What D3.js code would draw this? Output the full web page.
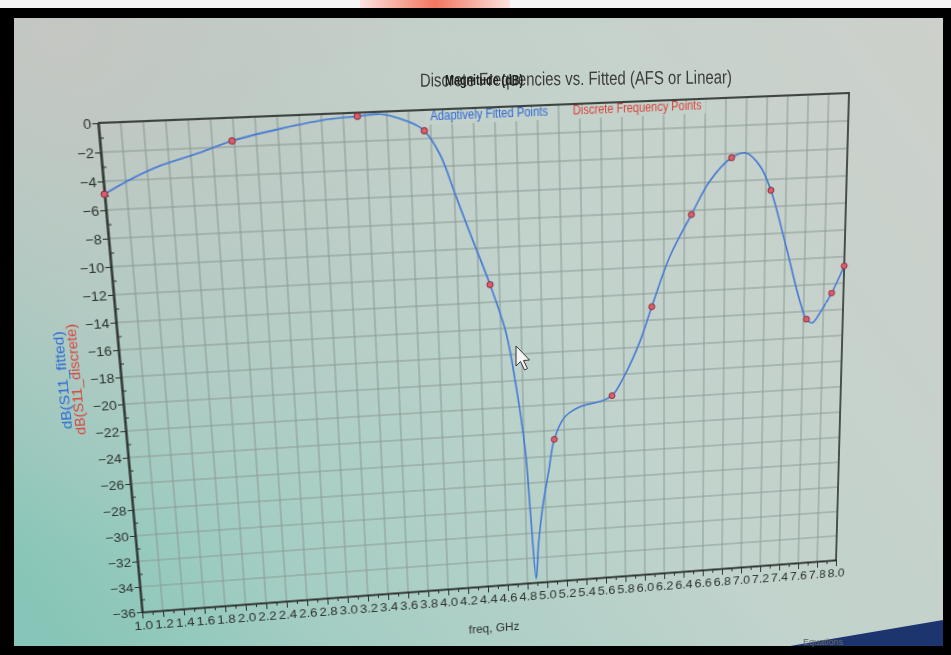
<!DOCTYPE html>
<meta charset="utf-8">

<head>
	<title>Discrete Frequencies vs. Fitted</title>
	<script src="https://cdnjs.cloudflare.com/ajax/libs/d3/7.8.5/d3.min.js" charset="utf-8"></script>
</head>

<style type="text/css">

	body {
		margin: 0;
		width: 951px;
		height: 655px;
		overflow: hidden;
		background: #000;
		font-family: "Liberation Sans Narrow", "Liberation Sans", sans-serif;
	}

	svg {
		position: absolute;
		left: 0;
		top: 0;
		overflow: visible;
	}

	/* the flat chart is drawn in here, then tilted like the photo of the screen */
	#plotWrap {
		position: absolute;
		left: 0;
		top: 0;
		width: 950px;
		height: 700px;
		transform-origin: 0 0;
	}

	.grid line {
		stroke: #8b9994;
		stroke-width: 1;
	}

	.axis path, .axis line {
		stroke: #2c312e;
	}

	.axis text {
		fill: #2c312e;
		font-size: 13px;
	}

</style>

<body>

	<svg id="screen" width="951" height="655"></svg>
	<div id="plotWrap"><svg id="plot" width="950" height="700"></svg></div>
	<svg id="overlay" width="951" height="655"></svg>

	<script>

		// adaptively fitted trace, dB(S11_fitted)
		var freqFitted = [1.0, 1.23, 1.52, 1.89, 2.18, 2.62, 2.99, 3.33, 3.54, 3.72, 3.86, 3.94, 4.08, 4.21, 4.34,
			4.51, 4.65, 4.73, 4.81, 4.85, 4.89, 4.92, 4.97, 5.04, 5.10, 5.21, 5.36, 5.55, 5.68, 5.80, 5.96,
			6.08, 6.26, 6.47, 6.65, 6.86, 7.00, 7.14, 7.25, 7.41, 7.56, 7.63, 7.69, 7.78, 7.88, 8.0];
		var dbFitted = [-4.9, -4.0, -3.1, -2.3, -1.6, -0.9, -0.44, -0.25, -0.17, -0.53, -1.0, -1.45, -3.2, -6.1, -9.0,
			-12.7, -16.3, -20.1, -25.4, -30.8, -35.7, -33.0, -30.0, -27.1, -24.7, -23.0, -22.3, -22.0, -21.6, -20.2, -17.6,
			-15.0, -11.3, -8.3, -5.9, -4.3, -4.0, -5.0, -6.8, -11.0, -15.2, -16.6, -16.9, -16.0, -14.7, -12.7];

		// discrete frequency points, dB(S11_discrete)
		var freqDiscrete = [1.0, 2.18, 3.33, 3.94, 4.51, 5.10, 5.68, 6.08, 6.47, 6.86, 7.25, 7.63, 7.88, 8.0];
		var dbDiscrete = [-4.9, -1.6, -0.25, -1.45, -12.7, -24.7, -21.6, -15.0, -8.3, -4.3, -6.8, -16.6, -14.7, -12.7];

		var xTicks = [1.0, 1.2, 1.4, 1.6, 1.8, 2.0, 2.2, 2.4, 2.6, 2.8, 3.0, 3.2, 3.4, 3.6, 3.8, 4.0, 4.2, 4.4,
			4.6, 4.8, 5.0, 5.2, 5.4, 5.6, 5.8, 6.0, 6.2, 6.4, 6.6, 6.8, 7.0, 7.2, 7.4, 7.6, 7.8, 8.0];
		var yTicks = [0, -2, -4, -6, -8, -10, -12, -14, -16, -18, -20, -22, -24, -26, -28, -30, -32, -34, -36];

		var margin = {top: 60, right: 120, bottom: 100, left: 80};
		var width = 700,
				height = 486;

		// where the plot corners sit in the photo: TL, TR, BR, BL
		var corners = [[98, 123], [849, 93], [836, 560], [142, 612]];

		//---background: photo of a monitor---//
		var screen = d3.select("#screen");
		var overlay = d3.select("#overlay");

		var defs = screen.append("defs");
		var bg = defs.append("linearGradient")
			.attr("id", "bg")
			.attr("gradientUnits", "userSpaceOnUse")
			.attr("x1", 943).attr("y1", 18)
			.attr("x2", 60).attr("y2", 646);
		bg.append("stop").attr("offset", 0).attr("stop-color", "#cdd0cb");
		bg.append("stop").attr("offset", 0.45).attr("stop-color", "#c1d3cc");
		bg.append("stop").attr("offset", 0.8).attr("stop-color", "#a3cdc3");
		bg.append("stop").attr("offset", 1).attr("stop-color", "#86c5b7");

		var shade = defs.append("radialGradient")
			.attr("id", "shade")
			.attr("gradientUnits", "userSpaceOnUse")
			.attr("cx", 60).attr("cy", 30).attr("r", 520);
		shade.append("stop").attr("offset", 0).attr("stop-color", "#c6c6c2").attr("stop-opacity", 0.95);
		shade.append("stop").attr("offset", 1).attr("stop-color", "#c6c6c2").attr("stop-opacity", 0);

		var mark = defs.append("linearGradient")
			.attr("id", "mark")
			.attr("x1", 0).attr("y1", 0).attr("x2", 1).attr("y2", 0);
		mark.append("stop").attr("offset", 0).attr("stop-color", "#fbe3df");
		mark.append("stop").attr("offset", 0.5).attr("stop-color", "#f2765f");
		mark.append("stop").attr("offset", 1).attr("stop-color", "#fbe3df");

		screen.append("rect").attr("width", 951).attr("height", 8).attr("fill", "#f6f6f6");
		screen.append("rect").attr("x", 360).attr("width", 150).attr("height", 8).attr("fill", "url(#mark)");
		screen.append("rect")
			.attr("x", 14).attr("y", 18).attr("width", 929).attr("height", 628)
			.attr("fill", "url(#bg)");
		screen.append("rect")
			.attr("x", 14).attr("y", 18).attr("width", 929).attr("height", 628)
			.attr("fill", "url(#shade)");
		// taskbar corner bottom right
		screen.append("path")
			.attr("d", "M790,646L943,620L943,646Z")
			.attr("fill", "#1c356f");
		screen.append("text")
			.attr("x", 803).attr("y", 645)
			.attr("font-size", 9)
			.attr("fill", "#666")
			.text("Equations");

		//---the flat chart---//
		var svg = d3.select("#plot")
		 .append("g")
			.attr("transform", "translate(" + margin.left + "," + margin.top + ")");

		var xScale = d3.scaleLinear()
			.domain([1, 8])
			.range([0, width]);

		var yScale = d3.scaleLinear()
			.domain([-36, 0])
			.range([height, 0]);

		// grid
		svg.append("g")
			.attr("class", "grid")
			.selectAll("line.v")
			.data(xTicks)
		 .enter().append("line")
			.attr("x1", function(d) { return xScale(d) })
			.attr("x2", function(d) { return xScale(d) })
			.attr("y1", 0)
			.attr("y2", height);

		svg.append("g")
			.attr("class", "grid")
			.selectAll("line.h")
			.data(yTicks)
		 .enter().append("line")
			.attr("x1", 0)
			.attr("x2", width)
			.attr("y1", function(d) { return yScale(d) })
			.attr("y2", function(d) { return yScale(d) });

		// legend, sitting in boxes under the top frame
		var legendItems = [
			{label: "Adaptively Fitted Points", at: 4.55, len: 110, color: "#3268d0"},
			{label: "Discrete Frequency Points", at: 5.95, len: 123, color: "#d8413a"}
		];

		svg.selectAll(".legendBox")
			.data(legendItems)
		 .enter().append("rect")
			.attr("class", "legendBox")
			.attr("x", function(d) { return xScale(d.at) - d.len / 2 - 4 })
			.attr("y", 1)
			.attr("width", function(d) { return d.len + 8 })
			.attr("height", 13)
			.attr("fill", "#c4d2cc");

		svg.selectAll(".legendText")
			.data(legendItems)
		 .enter().append("text")
			.attr("class", "legendText")
			.attr("x", function(d) { return xScale(d.at) })
			.attr("y", 10)
			.attr("text-anchor", "middle")
			.attr("font-size", 12)
			.attr("textLength", function(d) { return d.len })
			.attr("lengthAdjust", "spacingAndGlyphs")
			.attr("fill", function(d) { return d.color })
			.text(function(d) { return d.label });

		// frame top and right
		svg.append("path")
			.attr("d", "M0,0H" + width + "V" + height)
			.attr("fill", "none")
			.attr("stroke", "#3e4441")
			.attr("stroke-width", 1.8);

		// minor ticks
		var xMinor = d3.range(10, 81).map(function(d) { return d / 10 });
		var yMinor = d3.range(-35, 0, 2);

		svg.append("g")
			.attr("class", "axis")
			.attr("transform", "translate(0," + height + ")")
			.call(d3.axisBottom(xScale).tickValues(xMinor).tickSize(4).tickFormat(""))
			.call(function(g) { g.select(".domain").remove() });

		svg.append("g")
			.attr("class", "axis")
			.call(d3.axisRight(yScale).tickValues(yMinor).tickSize(4).tickFormat(""))
			.call(function(g) { g.select(".domain").remove() });

		// axes
		svg.append("g")
			.attr("class", "x axis")
			.attr("transform", "translate(0," + height + ")")
			.call(d3.axisBottom(xScale)
				.tickValues(xTicks)
				.tickSize(7)
				.tickPadding(3)
				.tickSizeOuter(0)
				.tickFormat(d3.format(".1f")))
			.call(function(g) { g.select(".domain").attr("stroke-width", 2.2) });

		svg.append("g")
			.attr("class", "y axis")
			.call(d3.axisLeft(yScale)
				.tickValues(yTicks)
				.tickSize(5)
				.tickPadding(1)
				.tickSizeOuter(0))
			.call(function(g) { g.select(".domain").attr("stroke-width", 2.2) });

		// y axis titles
		svg.append("text")
			.attr("transform", "translate(-49," + (height * 0.5) + ") rotate(-90)")
			.attr("text-anchor", "middle")
			.attr("font-size", 12)
			.attr("textLength", 97)
			.attr("lengthAdjust", "spacingAndGlyphs")
			.attr("fill", "#2f6ad6")
			.text("dB(S11_fitted)");

		svg.append("text")
			.attr("transform", "translate(-37," + (height * 0.5) + ") rotate(-90)")
			.attr("text-anchor", "middle")
			.attr("font-size", 12)
			.attr("textLength", 110)
			.attr("lengthAdjust", "spacingAndGlyphs")
			.attr("fill", "#d8463f")
			.text("dB(S11_discrete)");

		// x axis title
		svg.append("text")
			.attr("x", xScale(4.45))
			.attr("y", height + 51)
			.attr("text-anchor", "middle")
			.attr("font-size", 12)
			.attr("fill", "#2c312e")
			.text("freq, GHz");

		// traces
		var line = d3.line()
			.x(function(d, i) { return xScale(freqFitted[i]) })
			.y(function(d) { return yScale(d) })
			.curve(d3.curveCatmullRom.alpha(0.5));

		svg.append("path")
			.datum(dbFitted)
			.attr("d", line)
			.attr("fill", "none")
			.attr("stroke", "#4479d4")
			.attr("stroke-width", 1.6);

		svg.selectAll(".dot")
			.data(dbDiscrete)
		 .enter().append("circle")
			.attr("class", "dot")
			.attr("cx", function(d, i) { return xScale(freqDiscrete[i]) })
			.attr("cy", function(d) { return yScale(d) })
			.attr("r", 3)
			.attr("fill", "#d9606a")
			.attr("stroke", "#8a2a3a")
			.attr("stroke-width", 1);

		//---tilt the flat chart onto the photo corners (projective transform)---//
		function solve(A, b) {
			var n = b.length, i, r, c;
			for (i = 0; i < n; i++) {
				var p = i;
				for (r = i + 1; r < n; r++) if (Math.abs(A[r][i]) > Math.abs(A[p][i])) p = r;
				var t = A[i]; A[i] = A[p]; A[p] = t;
				t = b[i]; b[i] = b[p]; b[p] = t;
				for (r = i + 1; r < n; r++) {
					var f = A[r][i] / A[i][i];
					for (c = i; c < n; c++) A[r][c] -= f * A[i][c];
					b[r] -= f * b[i];
				}
			}
			var x = [];
			for (i = n - 1; i >= 0; i--) {
				var s = b[i];
				for (c = i + 1; c < n; c++) s -= A[i][c] * x[c];
				x[i] = s / A[i][i];
			}
			return x;
		}

		var src = [[margin.left, margin.top], [margin.left + width, margin.top],
			[margin.left + width, margin.top + height], [margin.left, margin.top + height]];
		var A = [], b = [];
		src.forEach(function(s, i) {
			var X = corners[i][0], Y = corners[i][1];
			A.push([s[0], s[1], 1, 0, 0, 0, -X * s[0], -X * s[1]]); b.push(X);
			A.push([0, 0, 0, s[0], s[1], 1, -Y * s[0], -Y * s[1]]); b.push(Y);
		});
		var h = solve(A, b);
		d3.select("#plotWrap").style("transform",
			"matrix3d(" + [h[0], h[3], 0, h[6], h[1], h[4], 0, h[7], 0, 0, 1, 0, h[2], h[5], 0, 1].join(",") + ")");

		//---title, in photo coordinates---//
		overlay.append("text")
			.attr("x", 576).attr("y", 85)
			.attr("transform", "rotate(-0.6,576,85)")
			.attr("text-anchor", "middle")
			.attr("font-size", 19)
			.attr("textLength", 312)
			.attr("lengthAdjust", "spacingAndGlyphs")
			.attr("fill", "#3b3d3b")
			.text("Discrete Frequencies vs. Fitted (AFS or Linear)");

		overlay.append("text")
			.attr("x", 484).attr("y", 85)
			.attr("text-anchor", "middle")
			.attr("font-size", 14)
			.attr("font-weight", "bold")
			.attr("textLength", 78)
			.attr("lengthAdjust", "spacingAndGlyphs")
			.attr("fill", "#1f211f")
			.text("Magnitude (dB)");

		// mouse pointer left on the screen
		overlay.append("path")
			.attr("d", "M516,346L516,366L520.5,361.5L524.5,370L527.5,368.5L523.5,360.5L529.5,360Z")
			.attr("fill", "#f4f4f4")
			.attr("stroke", "#333")
			.attr("stroke-width", 1);

	</script>

</body>
